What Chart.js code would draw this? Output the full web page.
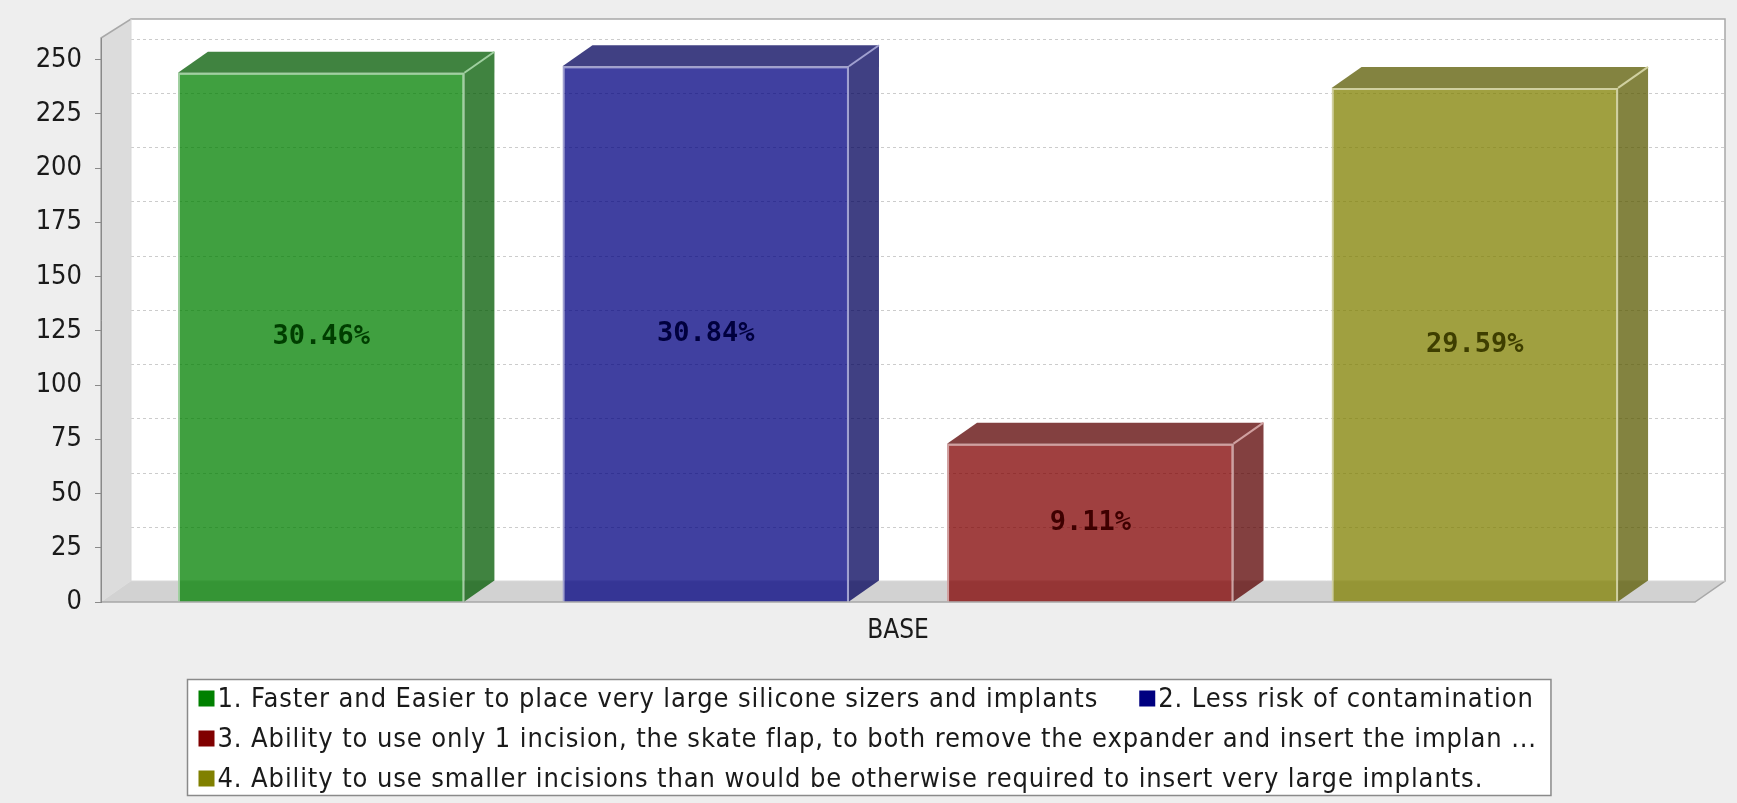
<!DOCTYPE html>
<html>
<head>
<meta charset="utf-8">
<script src="https://cdn.jsdelivr.net/npm/chart.js@4.4.0/dist/chart.umd.min.js"></script>
<style>
  html, body { margin: 0; padding: 0; background: #eeeeee; }
  #wrap { width: 1737px; height: 803px; }
</style>
</head>
<body>
<div id="wrap"><canvas id="chart" width="1737" height="803"></canvas></div>
<script>
// data
const categories = ['BASE'];
const seriesLabels = [
  '1. Faster and Easier to place very large silicone sizers and implants',
  '2. Less risk of contamination',
  '3. Ability to use only 1 incision, the skate flap, to both remove the expander and insert the implan ...',
  '4. Ability to use smaller incisions than would be otherwise required to insert very large implants.'
];
const series1 = [244];
const series2 = [247];
const series3 = [73];
const series4 = [237];
const yTicks = [0, 25, 50, 75, 100, 125, 150, 175, 200, 225, 250];

const seriesValues = [series1, series2, series3, series4];
const seriesColors = [[0, 128, 0], [0, 0, 128], [128, 0, 0], [128, 128, 0]];

const depthX = 30, depthY = 21;
const condensed = "'DejaVu Sans Condensed', 'DejaVu Sans', sans-serif";

const rgba = (c, a) => `rgba(${c[0]},${c[1]},${c[2]},${a})`;
const darker = c => c.map(v => Math.floor(v * 0.7));
const onWhite = (c, a) => c.map(v => Math.round(v * a + 255 * (1 - a)));
const mixWhite = (c, t) => c.map(v => Math.round(v + (255 - v) * t));

const total = seriesValues.reduce((s, d) => s + d[0], 0);

// walls, floor and gridlines of the 3D plot
const plot3d = {
  id: 'plot3d',
  beforeDraw(chart) {
    const {ctx, chartArea: a} = chart;
    const y = chart.scales.y;
    ctx.save();
    // back wall
    ctx.fillStyle = '#ffffff';
    ctx.fillRect(a.left + depthX, a.top - depthY + 2, a.right - a.left, a.bottom - a.top - 2);
    // left wall
    ctx.beginPath();
    ctx.moveTo(a.left, a.bottom);
    ctx.lineTo(a.left, a.top);
    ctx.lineTo(a.left + depthX, a.top - depthY + 2);
    ctx.lineTo(a.left + depthX, a.bottom - depthY);
    ctx.closePath();
    ctx.fillStyle = '#dcdcdc';
    ctx.fill();
    // floor
    ctx.beginPath();
    ctx.moveTo(a.left, a.bottom);
    ctx.lineTo(a.right, a.bottom);
    ctx.lineTo(a.right + depthX, a.bottom - depthY);
    ctx.lineTo(a.left + depthX, a.bottom - depthY);
    ctx.closePath();
    ctx.fillStyle = '#d2d2d2';
    ctx.fill();
    // gridlines on the back wall
    ctx.strokeStyle = '#cccccc';
    ctx.lineWidth = 1;
    ctx.setLineDash([3, 3]);
    yTicks.forEach(v => {
      if (v === 0) return;
      const py = Math.round(y.getPixelForValue(v) - depthY) + 0.5;
      ctx.beginPath();
      ctx.moveTo(a.left + depthX, py);
      ctx.lineTo(a.right + depthX, py);
      ctx.stroke();
    });
    ctx.setLineDash([]);
    // outline
    ctx.strokeStyle = '#a8a8a8';
    ctx.lineWidth = 1.5;
    ctx.beginPath();
    ctx.moveTo(a.left, a.bottom);
    ctx.lineTo(a.left, a.top);
    ctx.lineTo(a.left + depthX, a.top - depthY + 2);
    ctx.lineTo(a.right + depthX, a.top - depthY + 2);
    ctx.lineTo(a.right + depthX, a.bottom - depthY);
    ctx.lineTo(a.right, a.bottom);
    ctx.closePath();
    ctx.stroke();
    ctx.beginPath();
    ctx.moveTo(a.left + depthX, a.top - depthY + 2);
    ctx.lineTo(a.left + depthX, a.bottom - depthY);
    ctx.lineTo(a.right + depthX, a.bottom - depthY);
    ctx.strokeStyle = '#d8d8d8';
    ctx.lineWidth = 1;
    ctx.stroke();
    ctx.restore();
  },
  afterDatasetsDraw(chart) {
    const {ctx} = chart;
    ctx.save();
    chart.data.datasets.forEach((ds, i) => {
      const bar = chart.getDatasetMeta(i).data[0];
      const {x, y, base, width} = bar.getProps(['x', 'y', 'base', 'width'], true);
      const l = x - width / 2, r = x + width / 2;
      const col = seriesColors[i];
      const dark = rgba(darker(col), 0.75);
      // top face
      ctx.beginPath();
      ctx.moveTo(l, y);
      ctx.lineTo(l + depthX, y - depthY);
      ctx.lineTo(r + depthX, y - depthY);
      ctx.lineTo(r, y);
      ctx.closePath();
      ctx.fillStyle = dark;
      ctx.fill();
      // side face
      ctx.beginPath();
      ctx.moveTo(r, y);
      ctx.lineTo(r + depthX, y - depthY);
      ctx.lineTo(r + depthX, base - depthY);
      ctx.lineTo(r, base);
      ctx.closePath();
      ctx.fillStyle = dark;
      ctx.fill();
      // highlight edge
      ctx.strokeStyle = rgba(mixWhite(onWhite(col, 0.75), 0.5), 1);
      ctx.lineWidth = 2;
      ctx.beginPath();
      ctx.moveTo(r, y);
      ctx.lineTo(r + depthX, y - depthY);
      ctx.stroke();
      // value label
      const pct = (ds.data[0] / total * 100).toFixed(2) + '%';
      ctx.font = "bold 27px 'DejaVu Sans Mono', monospace";
      ctx.textAlign = 'center';
      ctx.textBaseline = 'middle';
      ctx.fillStyle = rgba(darker(darker(col)), 1);
      ctx.fillText(pct, x, (y + base) / 2);
    });
    ctx.restore();
  },
  afterDraw(chart) {
    const {ctx} = chart;
    ctx.save();
    ctx.font = '27px ' + condensed;
    ctx.letterSpacing = '0.9px';
    const box = 16, gap = 3, spacing = 41, padX = 11, rowH = 40, maxW = 1500;
    const rows = [[]];
    let rowW = 0;
    chart.data.datasets.forEach((ds, i) => {
      const w = box + gap + ctx.measureText(ds.label).width;
      const need = rowW === 0 ? w : rowW + spacing + w;
      if (need > maxW && rowW > 0) {
        rows.push([]);
        rowW = w;
      } else {
        rowW = need;
      }
      rows[rows.length - 1].push({i, w, label: ds.label});
    });
    const widths = rows.map(r => r.reduce((s, it) => s + it.w, 0) + spacing * (r.length - 1));
    const bw = Math.max(...widths) + padX * 2 + 3;
    const left = Math.round((chart.width - bw) / 2) + 0.5;
    const top = 679.5;
    const bh = rows.length * rowH - 4;
    ctx.fillStyle = '#ffffff';
    ctx.fillRect(left, top, bw, bh);
    ctx.strokeStyle = '#8a8a8a';
    ctx.lineWidth = 1.5;
    ctx.strokeRect(left, top, bw, bh);
    ctx.textBaseline = 'middle';
    ctx.textAlign = 'left';
    rows.forEach((r, ri) => {
      const cy = top + 19 + ri * rowH;
      let x = left + padX;
      r.forEach(it => {
        ctx.fillStyle = rgba(seriesColors[it.i], 1);
        ctx.fillRect(x, cy - box / 2, box, box);
        ctx.fillStyle = '#1a1a1a';
        ctx.fillText(it.label, x + box + gap, cy + 1);
        x += it.w + spacing;
      });
    });
    ctx.restore();
  }
};

new Chart(document.getElementById('chart'), {
  type: 'bar',
  data: {
    labels: categories,
    datasets: seriesLabels.map((label, i) => ({
      label: label,
      data: seriesValues[i],
      backgroundColor: rgba(seriesColors[i], 0.75),
      borderColor: rgba(mixWhite(onWhite(seriesColors[i], 0.75), 0.5), 1),
      borderWidth: 2,
      borderSkipped: 'bottom',
      categoryPercentage: 0.965,
      barPercentage: 0.745
    }))
  },
  options: {
    responsive: false,
    animation: false,
    layout: { padding: { left: 0, right: 42, top: 38, bottom: 151 } },
    plugins: {
      legend: { display: false },
      tooltip: { enabled: false }
    },
    scales: {
      x: {
        grid: { display: false, drawTicks: false },
        border: { display: false },
        ticks: { color: '#1a1a1a', font: { family: condensed, size: 26 }, padding: 14 },
        afterFit(scale) { scale.height = 50; }
      },
      y: {
        min: 0,
        max: 260,
        afterBuildTicks(scale) { scale.ticks = yTicks.map(v => ({ value: v })); },
        grid: { drawOnChartArea: false, tickLength: 6, color: '#8a8a8a' },
        border: { color: '#8a8a8a' },
        ticks: { color: '#1a1a1a', font: { family: condensed, size: 27 }, padding: 13 },
        afterFit(scale) { scale.width = 101; }
      }
    }
  },
  plugins: [plot3d]
});
</script>
</body>
</html>
